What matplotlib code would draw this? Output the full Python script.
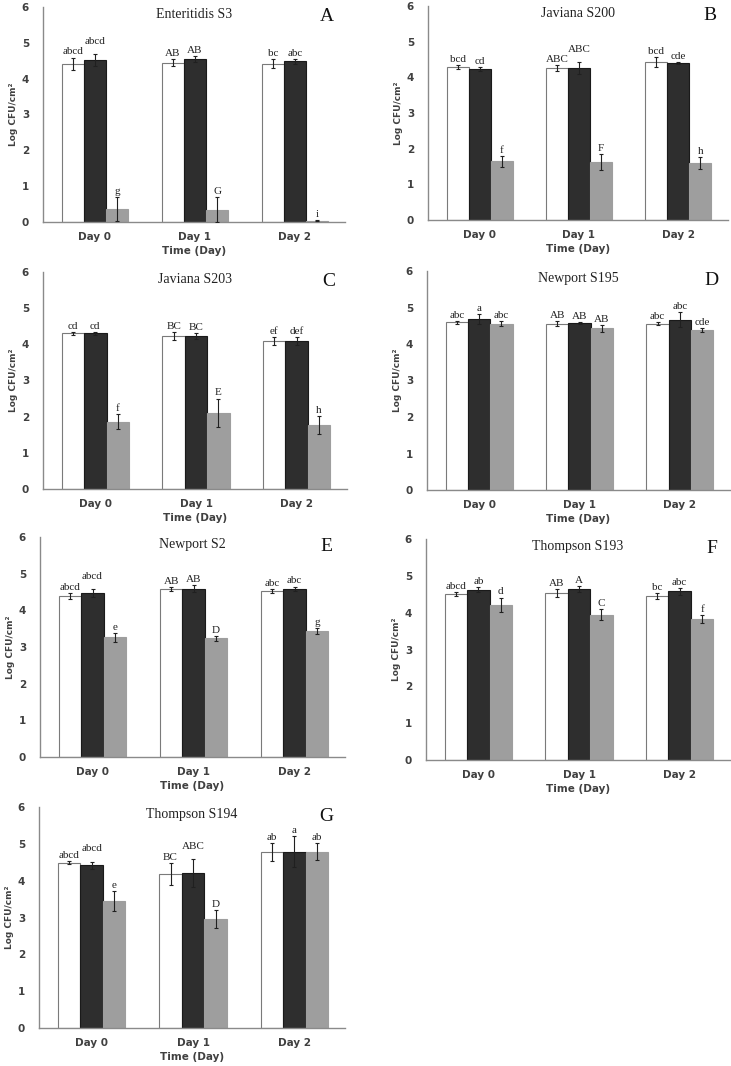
import numpy as np
import matplotlib
matplotlib.use('Agg')
import matplotlib.pyplot as plt

days = ["Day 0", "Day 1", "Day 2"]
titles = ["Enteritidis S3", "Javiana S200", "Javiana S203", "Newport S195",
          "Newport S2", "Thompson S193", "Thompson S194"]
panel_letters = ["A", "B", "C", "D", "E", "F", "G"]

# per panel: [white, black, gray] series, each over Day 0/1/2
means = [
    [[4.41, 4.44, 4.42], [4.52, 4.54, 4.48], [0.36, 0.34, 0.04]],
    [[4.29, 4.26, 4.43], [4.24, 4.25, 4.39], [1.65, 1.63, 1.60]],
    [[4.30, 4.23, 4.09], [4.30, 4.23, 4.09], [1.86, 2.11, 1.76]],
    [[4.59, 4.56, 4.56], [4.69, 4.58, 4.67], [4.56, 4.43, 4.38]],
    [[4.39, 4.58, 4.53], [4.47, 4.59, 4.59], [3.26, 3.24, 3.44]],
    [[4.51, 4.53, 4.46], [4.62, 4.64, 4.58], [4.22, 3.95, 3.83]],
    [[4.49, 4.18, 4.78], [4.42, 4.21, 4.79], [3.45, 2.96, 4.78]],
]
errs = [
    [[0.18, 0.10, 0.12], [0.16, 0.08, 0.08], [0.33, 0.35, 0.02]],
    [[0.06, 0.08, 0.14], [0.06, 0.17, 0.03], [0.15, 0.22, 0.17]],
    [[0.04, 0.10, 0.12], [0.05, 0.08, 0.12], [0.20, 0.39, 0.25]],
    [[0.03, 0.07, 0.05], [0.13, 0.03, 0.20], [0.08, 0.09, 0.05]],
    [[0.08, 0.05, 0.05], [0.10, 0.10, 0.06], [0.13, 0.07, 0.08]],
    [[0.05, 0.10, 0.08], [0.07, 0.08, 0.10], [0.19, 0.14, 0.10]],
    [[0.04, 0.30, 0.25], [0.10, 0.37, 0.43], [0.27, 0.24, 0.23]],
]
letters = [
    [["abcd", "AB", "bc"], ["abcd", "AB", "abc"], ["g", "G", "i"]],
    [["bcd", "ABC", "bcd"], ["cd", "ABC", "cde"], ["f", "F", "h"]],
    [["cd", "BC", "ef"], ["cd", "BC", "def"], ["f", "E", "h"]],
    [["abc", "AB", "abc"], ["a", "AB", "abc"], ["abc", "AB", "cde"]],
    [["abcd", "AB", "abc"], ["abcd", "AB", "abc"], ["e", "D", "g"]],
    [["abcd", "AB", "bc"], ["ab", "A", "abc"], ["d", "C", "f"]],
    [["abcd", "BC", "ab"], ["abcd", "ABC", "a"], ["e", "D", "ab"]],
]

# labels pushed up to avoid overlapping neighbours: (panel, series, day)
lifted = {(0, 1, 0), (1, 1, 1), (4, 1, 0), (6, 1, 0), (6, 1, 1)}

fill_colors = ["white", "#2e2e2e", "#9e9e9e"]
edge_colors = ["#7a7a7a", "#1a1a1a", "#9e9e9e"]

# axes boxes in pixels: left, right, top, bottom
boxes = [
    (43, 345, 7, 222), (428, 728, 6, 220),
    (43, 347, 272, 489), (427, 730, 271, 490),
    (40, 345, 537, 757), (426, 730, 539, 760),
    (39, 345, 807, 1028),
]

W, H = 731, 1066
fig = plt.figure(figsize=(W / 100, H / 100), dpi=100)

width = 0.222
x = np.arange(len(days))
for p in range(7):
    l, r, t, b = boxes[p]
    ax = fig.add_axes([l / W, 1 - b / H, (r - l) / W, (b - t) / H])
    for s in range(3):
        pos = x + (s - 1) * width
        ax.bar(pos, means[p][s], width, color=fill_colors[s],
               edgecolor=edge_colors[s], linewidth=0.8, zorder=2)
        ax.errorbar(pos, means[p][s], yerr=errs[p][s], fmt='none',
                    ecolor='#202020', elinewidth=0.8, capsize=1.6,
                    capthick=0.8, zorder=3)
        for d in range(3):
            y = means[p][s][d] + errs[p][s][d] + 0.03
            if (p, s, d) in lifted:
                y += 0.2
            ax.text(pos[d], y, letters[p][s][d], ha='center', va='bottom',
                    family='Liberation Serif', fontsize=8, color='#222222')
    ax.set_xlim(-0.52, 2.5)
    ax.set_ylim(0, 6)
    ax.set_yticks(range(7))
    ax.set_xticks(x)
    ax.set_xticklabels(days)
    ax.tick_params(length=0, labelsize=7.5, labelcolor='#404040', pad=7)
    for lab in ax.get_xticklabels() + ax.get_yticklabels():
        lab.set_fontweight('bold')
    ax.tick_params(axis='y', pad=10)
    for side in ['top', 'right']:
        ax.spines[side].set_visible(False)
    for side in ['left', 'bottom']:
        ax.spines[side].set_color('#8a8a8a')
        ax.spines[side].set_linewidth(1.0)
    ax.set_xlabel("Time (Day)", fontsize=7.5, fontweight='bold',
                  color='#404040', labelpad=3)
    ax.set_ylabel("Log CFU/cm²", fontsize=6.5, fontweight='bold',
                  color='#404040', labelpad=3)
    ax.text(0.5, 0.995, titles[p], transform=ax.transAxes, ha='center',
            va='top', family='Liberation Serif', fontsize=10, color='#222222')
    ax.text(0.94, 0.995, panel_letters[p], transform=ax.transAxes,
            ha='center', va='top', family='Liberation Serif', fontsize=14,
            color='#111111')

fig.savefig("out.png", dpi=100)
